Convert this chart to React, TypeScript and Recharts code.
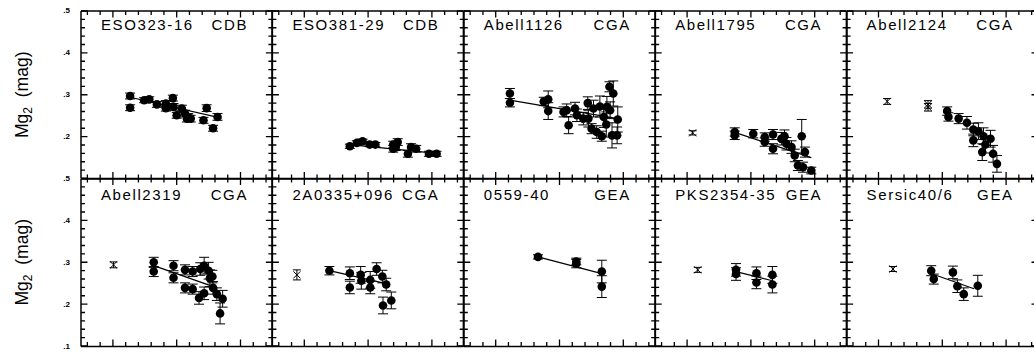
import React from 'react';
import { ScatterChart, Scatter, XAxis, YAxis, ErrorBar } from 'recharts';

// panel titles, read left-to-right, top-to-bottom
const panelNames = ['ESO323-16', 'ESO381-29', 'Abell1126', 'Abell1795', 'Abell2124',
  'Abell2319', '2A0335+096', '0559-40', 'PKS2354-35', 'Sersic40/6'];
const panelTypes = ['CDB', 'CDB', 'CGA', 'CGA', 'CGA', 'CGA', 'CGA', 'GEA', 'GEA', 'GEA'];

const xTicks = [-1.4, -1.2, -1, -0.8, -0.6, -0.4, -0.2, 0, 0.2, 0.4, 0.6, 0.8, 1, 1.2, 1.4];
const yTicks = [0.1, 0.12, 0.14, 0.16, 0.18, 0.2, 0.22, 0.24, 0.26, 0.28, 0.3,
  0.32, 0.34, 0.36, 0.38, 0.4, 0.42, 0.44, 0.46, 0.48, 0.5];

// [x, Mg2, error]
const eso323Pts = [[-0.73, 0.297, 0.007], [-0.73, 0.269, 0.007], [-0.51, 0.287, 0.006], [-0.43, 0.289, 0.006],
  [-0.31, 0.277, 0.007], [-0.17, 0.279, 0.007], [-0.17, 0.268, 0.007], [-0.06, 0.292, 0.007], [-0.05, 0.271, 0.008],
  [0.0, 0.251, 0.007], [0.08, 0.267, 0.008], [0.13, 0.255, 0.008], [0.18, 0.247, 0.008], [0.22, 0.243, 0.008],
  [0.16, 0.243, 0.008], [0.42, 0.239, 0.007], [0.47, 0.268, 0.008], [0.57, 0.22, 0.007], [0.64, 0.247, 0.008]];
const eso323Fit = [[-0.73, 0.294], [0.7, 0.244]];

const eso381Pts = [[-0.28, 0.177, 0.005], [-0.17, 0.185, 0.005], [-0.08, 0.189, 0.005], [0.03, 0.181, 0.005],
  [0.12, 0.181, 0.005], [0.4, 0.181, 0.008], [0.4, 0.171, 0.008], [0.44, 0.175, 0.008], [0.47, 0.187, 0.008],
  [0.63, 0.159, 0.008], [0.68, 0.175, 0.008], [0.76, 0.171, 0.008], [0.96, 0.159, 0.006], [1.08, 0.159, 0.006]];
const eso381Fit = [[-0.28, 0.181], [1.08, 0.16]];

const a1126Pts = [[-0.78, 0.303, 0.012], [-0.78, 0.281, 0.01], [-0.25, 0.284, 0.01], [-0.18, 0.289, 0.02],
  [-0.18, 0.261, 0.02], [0.06, 0.259, 0.012], [0.11, 0.263, 0.015], [0.14, 0.227, 0.02], [0.24, 0.267, 0.015],
  [0.27, 0.251, 0.015], [0.37, 0.243, 0.015], [0.44, 0.28, 0.015], [0.45, 0.243, 0.02], [0.5, 0.219, 0.012],
  [0.53, 0.267, 0.02], [0.58, 0.211, 0.015], [0.63, 0.272, 0.025], [0.66, 0.201, 0.012], [0.69, 0.247, 0.025],
  [0.73, 0.229, 0.03], [0.74, 0.271, 0.025], [0.78, 0.319, 0.012], [0.79, 0.263, 0.02], [0.82, 0.203, 0.03],
  [0.84, 0.303, 0.03], [0.9, 0.203, 0.02], [0.91, 0.241, 0.03]];
const a1126Fit = [[-0.78, 0.287], [0.91, 0.243]];

const a1795Pts = [[-0.25, 0.211, 0.01], [-0.25, 0.203, 0.01], [0.04, 0.207, 0.01], [0.22, 0.199, 0.01],
  [0.22, 0.187, 0.01], [0.35, 0.205, 0.012], [0.35, 0.171, 0.012], [0.48, 0.195, 0.015], [0.53, 0.201, 0.015],
  [0.56, 0.183, 0.015], [0.64, 0.175, 0.015], [0.69, 0.155, 0.015], [0.8, 0.201, 0.04], [0.74, 0.131, 0.012],
  [0.82, 0.127, 0.012], [0.85, 0.163, 0.012], [0.95, 0.119, 0.008]];
const a1795Cross = [[-0.91, 0.209, 0.005]];
const a1795Fit = [[-0.25, 0.21], [0.95, 0.15]];

const a2124Pts = [[0.07, 0.261, 0.01], [0.09, 0.247, 0.01], [0.25, 0.243, 0.012], [0.38, 0.233, 0.015],
  [0.48, 0.217, 0.015], [0.48, 0.191, 0.015], [0.56, 0.213, 0.02], [0.64, 0.201, 0.02], [0.67, 0.181, 0.02],
  [0.62, 0.163, 0.02], [0.75, 0.195, 0.02], [0.79, 0.159, 0.02], [0.85, 0.135, 0.02]];
const a2124Cross = [[-0.87, 0.284, 0.007], [-0.23, 0.277, 0.009], [-0.23, 0.27, 0.009]];
const a2124Fit: number[][] = [];

const a2319Pts = [[-0.36, 0.301, 0.012], [-0.36, 0.279, 0.012], [-0.05, 0.293, 0.012], [-0.05, 0.264, 0.012],
  [0.13, 0.283, 0.012], [0.13, 0.24, 0.012], [0.25, 0.279, 0.012], [0.25, 0.237, 0.012], [0.35, 0.216, 0.015],
  [0.37, 0.285, 0.015], [0.43, 0.293, 0.02], [0.43, 0.227, 0.015], [0.5, 0.281, 0.02], [0.52, 0.263, 0.02],
  [0.56, 0.267, 0.015], [0.57, 0.24, 0.015], [0.63, 0.225, 0.015], [0.68, 0.179, 0.025], [0.72, 0.214, 0.02]];
const a2319Cross = [[-0.99, 0.295, 0.007]];
const a2319Fit = [[-0.36, 0.293], [0.63, 0.24]];

const a0335Pts = [[-0.6, 0.281, 0.01], [-0.28, 0.275, 0.015], [-0.28, 0.241, 0.015], [-0.11, 0.271, 0.02],
  [-0.1, 0.257, 0.02], [0.04, 0.259, 0.02], [0.04, 0.241, 0.015], [0.14, 0.285, 0.015], [0.23, 0.267, 0.015],
  [0.29, 0.248, 0.015], [0.24, 0.198, 0.02], [0.37, 0.21, 0.02]];
const a0335Cross = [[-1.11, 0.271, 0.012]];
const a0335Fit = [[-0.6, 0.281], [0.29, 0.25]];

const s0559Pts = [[-0.34, 0.314, 0.005], [0.26, 0.298, 0.01], [0.26, 0.303, 0.008], [0.66, 0.279, 0.027],
  [0.66, 0.243, 0.026]];
const s0559Fit = [[-0.34, 0.314], [0.66, 0.274]];

const pks2354Pts = [[-0.23, 0.283, 0.015], [-0.23, 0.273, 0.015], [0.09, 0.275, 0.015], [0.09, 0.253, 0.015],
  [0.34, 0.271, 0.02], [0.34, 0.248, 0.02]];
const pks2354Cross = [[-0.83, 0.283, 0.006]];
const pks2354Fit = [[-0.23, 0.279], [0.34, 0.257]];

const sersicPts = [[-0.18, 0.281, 0.012], [-0.14, 0.261, 0.012], [0.16, 0.277, 0.015], [0.23, 0.244, 0.015],
  [0.33, 0.225, 0.015], [0.55, 0.245, 0.025]];
const sersicCross = [[-0.78, 0.285, 0.006]];
const sersicFit = [[-0.16, 0.273], [0.49, 0.238]];

const toPts = (a: number[][]) => a.map(([x, y, e]) => ({ x, y, e }));
const toXY = (a: number[][]) => a.map(([x, y]) => ({ x, y }));

const panels = [
  { pts: eso323Pts, cross: [], fit: eso323Fit },
  { pts: eso381Pts, cross: [], fit: eso381Fit },
  { pts: a1126Pts, cross: [], fit: a1126Fit },
  { pts: a1795Pts, cross: a1795Cross, fit: a1795Fit },
  { pts: a2124Pts, cross: a2124Cross, fit: a2124Fit },
  { pts: a2319Pts, cross: a2319Cross, fit: a2319Fit },
  { pts: a0335Pts, cross: a0335Cross, fit: a0335Fit },
  { pts: s0559Pts, cross: [], fit: s0559Fit },
  { pts: pks2354Pts, cross: pks2354Cross, fit: pks2354Fit },
  { pts: sersicPts, cross: sersicCross, fit: sersicFit },
];

const LEFT = 81;
const PW = 191.4;
const PH = 167.5;
const TOPS = [11, 178.5];
const M = 20;
const X_DOMAIN = [-1.5, 1.5];
const Y_DOMAIN = [0.1, 0.5];
const FONT = '"Liberation Sans", Arial, Helvetica, sans-serif';

const isMajX = (v: number) => Math.abs(v - Math.round(v)) < 1e-6;
const isMajY = (v: number) => Math.abs(v * 10 - Math.round(v * 10)) < 1e-6;

// recharts tick: only the y labels of the first column; tick marks are drawn on the frame overlay
const makeTick = (withLabel = false, row = 0) => (t: any) => {
  const v = Number(t.payload.value);
  const showLabel = withLabel && isMajY(v) && !(row === 0 && v < 0.15);
  if (!showLabel) return <g />;
  return (
    <text x={M - 11} y={Number(t.y) + 2.5} textAnchor="end" fontSize={8} fontWeight="bold" fontFamily={FONT} fill="#000">
      {'.' + Math.round(v * 10)}
    </text>
  );
};

const Dot = (p: any) => <circle cx={p.cx} cy={p.cy} r={4.3} fill="#000" />;
const Cross = (p: any) => (
  <g stroke="#000" strokeWidth={1}>
    <line x1={p.cx - 3.5} y1={p.cy - 3.5} x2={p.cx + 3.5} y2={p.cy + 3.5} />
    <line x1={p.cx - 3.5} y1={p.cy + 3.5} x2={p.cx + 3.5} y2={p.cy - 3.5} />
  </g>
);
const NoShape = () => <g />;

const frame = { stroke: '#000', strokeWidth: 1.5 };

const Panel = ({ idx }: { idx: number }) => {
  const col = idx % 5;
  const row = Math.floor(idx / 5);
  const L = LEFT + col * PW;
  const T = TOPS[row];
  const p = panels[idx];
  const pts = toPts(p.pts);
  return (
    <div style={{ position: 'absolute', left: L - M, top: T - M }}>
      <ScatterChart width={PW + 2 * M} height={PH + 2 * M} margin={{ top: 0, right: 0, bottom: 0, left: 0 }}>
        <XAxis xAxisId="b" dataKey="x" type="number" orientation="bottom" domain={X_DOMAIN} ticks={xTicks}
          interval={0} height={M} tickLine={false} axisLine={frame} tick={false} allowDataOverflow />
        <XAxis xAxisId="t" dataKey="x" type="number" orientation="top" domain={X_DOMAIN} ticks={xTicks}
          interval={0} height={M} tickLine={false} axisLine={frame} tick={false} allowDataOverflow />
        <YAxis yAxisId="l" dataKey="y" type="number" orientation="left" domain={Y_DOMAIN} ticks={yTicks}
          interval={0} width={M} tickLine={false} axisLine={frame} tick={makeTick(col === 0, row)} allowDataOverflow />
        <YAxis yAxisId="r" dataKey="y" type="number" orientation="right" domain={Y_DOMAIN} ticks={yTicks}
          interval={0} width={M} tickLine={false} axisLine={frame} tick={false} allowDataOverflow />
        <Scatter xAxisId="t" yAxisId="r" data={pts} shape={NoShape} isAnimationActive={false} />
        {p.fit.length > 0 && (
          <Scatter xAxisId="b" yAxisId="l" data={toXY(p.fit)} line={{ stroke: '#000', strokeWidth: 1.2 }}
            shape={NoShape} isAnimationActive={false} />
        )}
        {p.cross.length > 0 && (
          <Scatter xAxisId="b" yAxisId="l" data={toPts(p.cross)} shape={Cross} isAnimationActive={false}>
            <ErrorBar dataKey="e" direction="y" width={4} stroke="#000" strokeWidth={1} />
          </Scatter>
        )}
        <Scatter xAxisId="b" yAxisId="l" data={pts} shape={Dot} isAnimationActive={false}>
          <ErrorBar dataKey="e" direction="y" width={5} stroke="#000" strokeWidth={1} />
        </Scatter>
      </ScatterChart>
    </div>
  );
};

// inward tick marks on all four sides of one panel, placed with the same linear mapping as the axes
const FrameTicks = ({ L, T }: { L: number; T: number }) => {
  const sx = (v: number) => L + ((v - X_DOMAIN[0]) / (X_DOMAIN[1] - X_DOMAIN[0])) * PW;
  const sy = (v: number) => T + ((Y_DOMAIN[1] - v) / (Y_DOMAIN[1] - Y_DOMAIN[0])) * PH;
  let d = '';
  xTicks.forEach((v) => {
    const len = isMajX(v) ? 6.5 : 4;
    const x = sx(v);
    d += `M${x},${T + PH}v${-len}M${x},${T}v${len}`;
  });
  yTicks.forEach((v) => {
    const len = isMajY(v) ? 6.5 : 4;
    const y = sy(v);
    d += `M${L},${y}h${len}M${L + PW},${y}h${-len}`;
  });
  return <path d={d} stroke="#000" strokeWidth={1.3} fill="none" />;
};

const rowMid = (r: number) => TOPS[r] + PH / 2;
const labelBase = [19, 21.5];

export default function App() {
  return (
    <div style={{ position: 'absolute', left: 0, top: 0, width: 1034, height: 353, background: '#fff', overflow: 'hidden' }}>
      {panels.map((_, i) => <Panel key={i} idx={i} />)}
      <svg width={1034} height={353} style={{ position: 'absolute', left: 0, top: 0, pointerEvents: 'none' }}>
        {panels.map((_, i) => {
          const col = i % 5;
          const row = Math.floor(i / 5);
          const L = LEFT + col * PW;
          const y = TOPS[row] + labelBase[row];
          return (
            <g key={i}>
              <FrameTicks L={L} T={TOPS[row]} />
              <g fontFamily={FONT} fontSize={15} letterSpacing={1.6} fill="#000">
                <text x={L + 20} y={y}>{panelNames[i]}</text>
                <text x={L + 167} y={y} textAnchor="end">{panelTypes[i]}</text>
              </g>
            </g>
          );
        })}
        {[0, 1].map((r) => (
          <text key={r} x={28} y={rowMid(r)} transform={`rotate(-90, 28, ${rowMid(r)})`} textAnchor="middle"
            fontFamily={FONT} fontSize={17.5} fill="#000">
            Mg<tspan fontSize={12} dy={4}>2</tspan><tspan dy={-4}>{'\u00a0 (mag)'}</tspan>
          </text>
        ))}
      </svg>
    </div>
  );
}
